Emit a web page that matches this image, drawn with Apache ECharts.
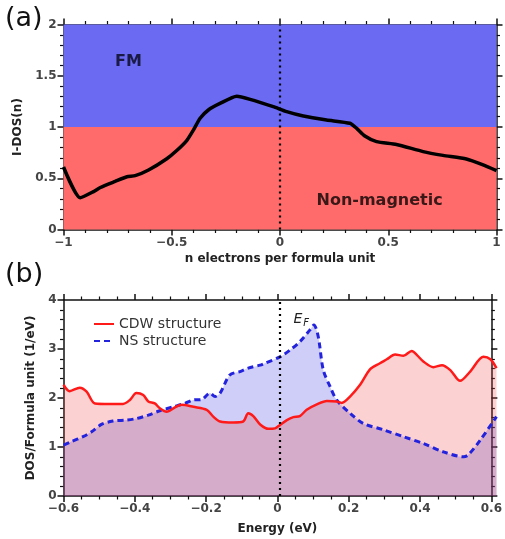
<!DOCTYPE html>
<html>
<head>
<meta charset="utf-8">
<title>I-DOS / DOS</title>
<script src="https://cdn.jsdelivr.net/npm/echarts@6/dist/echarts.min.js"></script>
<style>
  html, body { margin: 0; padding: 0; background: #fff; }
  #chart { width: 505px; height: 539px; }
</style>
</head>
<body>
<div id="chart"></div>
<script>
// panel (a): integrated DOS vs electron doping
var nElec = [-1, -0.923, -0.861, -0.83, -0.761, -0.707, -0.669, -0.607, -0.523, -0.477, -0.43, -0.4, -0.369, -0.331, -0.277, -0.2,
             -0.138, -0.031, 0.031, 0.108, 0.215, 0.323, 0.354, 0.392, 0.446, 0.538, 0.661, 0.753, 0.861, 0.938, 1];
var iDos  = [0.61, 0.31, 0.37, 0.41, 0.47, 0.515, 0.525, 0.58, 0.69, 0.77, 0.87, 0.97, 1.085, 1.166, 1.23, 1.30,
             1.27, 1.198, 1.15, 1.107, 1.068, 1.036, 0.987, 0.912, 0.857, 0.83, 0.76, 0.723, 0.688, 0.63, 0.574];
var fmBand = [1, 2];
var nmBand = [0, 1];

// panel (b): DOS vs energy
var cdwE   = [-0.6, -0.583, -0.555, -0.536, -0.513, -0.472, -0.435, -0.416, -0.398, -0.379, -0.365, -0.347, -0.333, -0.314, -0.291,
              -0.273, -0.24, -0.203, -0.185, -0.166, -0.13, -0.102, -0.088, -0.074, -0.055, -0.032, -0.014, 0, 0.019, 0.037,
              0.055, 0.074, 0.102, 0.13, 0.157, 0.171, 0.194, 0.222, 0.25, 0.277, 0.296, 0.319, 0.342, 0.365, 0.379,
              0.398, 0.425, 0.449, 0.472, 0.499, 0.527, 0.564, 0.583, 0.6];
var cdwDos = [2.27, 2.14, 2.21, 2.13, 1.89, 1.88, 1.88, 1.96, 2.10, 2.06, 1.93, 1.89, 1.79, 1.72, 1.81,
              1.86, 1.82, 1.76, 1.62, 1.52, 1.50, 1.52, 1.69, 1.63, 1.46, 1.37, 1.38, 1.45, 1.55, 1.61,
              1.63, 1.76, 1.87, 1.94, 1.93, 1.90, 2.03, 2.27, 2.59, 2.71, 2.79, 2.89, 2.86, 2.96, 2.88,
              2.74, 2.63, 2.67, 2.57, 2.35, 2.54, 2.84, 2.79, 2.61];
var nsE    = [-0.6, -0.578, -0.546, -0.522, -0.495, -0.463, -0.425, -0.398, -0.365, -0.333, -0.296, -0.264, -0.24, -0.217,
              -0.194, -0.18, -0.166, -0.139, -0.111, -0.088, -0.055, -0.042, 0, 0.028, 0.055, 0.083, 0.094, 0.106, 0.12,
              0.139, 0.157, 0.194, 0.231, 0.287, 0.342, 0.398, 0.453, 0.509, 0.522, 0.555, 0.6];
var nsDos  = [1.04, 1.11, 1.21, 1.31, 1.46, 1.53, 1.55, 1.58, 1.65, 1.74, 1.82, 1.89, 1.96, 1.97,
              2.10, 2.03, 2.10, 2.47, 2.54, 2.61, 2.67, 2.71, 2.84, 2.98, 3.15, 3.39, 3.49, 3.25, 2.57,
              2.23, 1.96, 1.69, 1.48, 1.35, 1.21, 1.07, 0.90, 0.80, 0.84, 1.14, 1.62];

// annotation anchors in data units
var fmAt = [-0.7, 1.64];
var nmAt = [0.46, 0.28];
var efAt = [0.05, 3.6];

function pairs(xs, ys) { return xs.map(function (x, i) { return [x, ys[i]]; }); }
function minus(v) { return String(v).replace('-', '\u2212'); }

var font = 'DejaVu Sans';

// data axes: scale only, drawn nothing
function dataAxis(gi, min, max) {
  return { type: 'value', gridIndex: gi, min: min, max: max, show: false };
}
// frame axes on an empty overlay grid: line, ticks, labels, name
function frameAxis(gi, min, max, step, minorN, name, gap, show, pos) {
  return {
    type: 'value', gridIndex: gi, min: min, max: max, interval: step,
    position: pos,
    name: show ? name : '', nameLocation: 'middle', nameGap: gap,
    nameTextStyle: { color: '#222', fontWeight: 'bold', fontSize: 12, fontFamily: font },
    axisLine: { show: true, onZero: false, lineStyle: { color: '#111', width: 1.5 } },
    axisTick: { show: true, inside: false, length: 6, lineStyle: { color: '#111', width: 1.5 } },
    minorTick: { show: true, splitNumber: minorN, length: 3.5, lineStyle: { color: '#111', width: 1.2 } },
    axisLabel: { show: show, formatter: minus, margin: 7, color: '#444', fontWeight: 'bold', fontSize: 12, fontFamily: font },
    splitLine: { show: false }
  };
}

var gridA = { left: 63.5, right: 8.5, top: 24.5, height: 205 };
var gridB = { left: 63.5, right: 8.5, top: 300, height: 196 };

var chart = echarts.init(document.getElementById('chart'));
chart.setOption({
  animation: false,
  backgroundColor: '#fff',
  title: [
    { text: '(a)', left: 0, top: 0, textStyle: { fontSize: 27, fontWeight: 'normal', color: '#111', fontFamily: font } },
    { text: '(b)', left: 0, top: 256, textStyle: { fontSize: 27, fontWeight: 'normal', color: '#111', fontFamily: font } }
  ],
  grid: [gridA, gridB, Object.assign({ z: 10 }, gridA), Object.assign({ z: 10 }, gridB)],
  legend: {
    orient: 'vertical', left: 88, top: 312, itemWidth: 20, itemHeight: 10, itemGap: 3,
    itemStyle: { opacity: 0 },
    textStyle: { fontSize: 14, color: '#333', fontFamily: font },
    data: ['CDW structure', 'NS structure']
  },
  xAxis: [
    dataAxis(0, -1, 1),
    dataAxis(1, -0.6, 0.6),
    frameAxis(2, -1, 1, 0.5, 5, 'n electrons per formula unit', 23, true, 'bottom'),
    frameAxis(2, -1, 1, 0.5, 5, '', 0, false, 'top'),
    frameAxis(3, -0.6, 0.6, 0.2, 4, 'Energy (eV)', 27, true, 'bottom'),
    frameAxis(3, -0.6, 0.6, 0.2, 4, '', 0, false, 'top')
  ],
  yAxis: [
    dataAxis(0, 0, 2),
    dataAxis(1, 0, 4),
    frameAxis(2, 0, 2, 0.5, 5, 'I-DOS(n)', 32, true, 'left'),
    frameAxis(2, 0, 2, 0.5, 5, '', 0, false, 'right'),
    frameAxis(3, 0, 4, 1, 5, 'DOS/Formula unit (1/eV)', 22, true, 'left'),
    frameAxis(3, 0, 4, 1, 5, '', 0, false, 'right')
  ],
  series: [
    {
      name: 'I-DOS', type: 'line', xAxisIndex: 0, yAxisIndex: 0,
      data: pairs(nElec, iDos), symbol: 'none', smooth: 0.2,
      lineStyle: { color: '#000', width: 3.5 }, z: 5,
      markArea: {
        silent: true,
        data: [
          [{ yAxis: fmBand[0], itemStyle: { color: '#6a6af2' } }, { yAxis: fmBand[1] }],
          [{ yAxis: nmBand[0], itemStyle: { color: '#ff6b6b' } }, { yAxis: nmBand[1] }]
        ]
      },
      markLine: {
        silent: true, symbol: 'none', label: { show: false },
        lineStyle: { color: '#000', type: [2, 4], width: 2.2 },
        data: [{ xAxis: 0 }]
      }
    },
    {
      name: 'NS structure', type: 'line', xAxisIndex: 1, yAxisIndex: 1,
      data: pairs(nsE, nsDos), symbol: 'none', smooth: 0.3,
      lineStyle: { color: '#2323dd', width: 3, type: [6, 4] },
      itemStyle: { color: '#2323dd' },
      areaStyle: { color: 'rgba(52,52,226,0.35)' },
      markLine: {
        silent: true, symbol: 'none', label: { show: false },
        lineStyle: { color: '#000', type: [2, 4], width: 2.2 },
        data: [{ xAxis: 0 }]
      }
    },
    {
      name: 'CDW structure', type: 'line', xAxisIndex: 1, yAxisIndex: 1,
      data: pairs(cdwE, cdwDos), symbol: 'none', smooth: 0.3,
      lineStyle: { color: '#ff1a1a', width: 2.5 },
      itemStyle: { color: '#ff1a1a' },
      areaStyle: { color: 'rgba(238,64,64,0.35)' }
    }
  ]
});

// text annotations placed through the data axes
var fm = chart.convertToPixel({ xAxisIndex: 0, yAxisIndex: 0 }, fmAt);
var nm = chart.convertToPixel({ xAxisIndex: 0, yAxisIndex: 0 }, nmAt);
var ef = chart.convertToPixel({ xAxisIndex: 1, yAxisIndex: 1 }, efAt);
function label(p, txt, size, color) {
  return { type: 'text', z: 20, silent: true,
           style: { x: p[0], y: p[1], text: txt, fill: color, font: size, align: 'center', verticalAlign: 'middle' } };
}
chart.setOption({
  graphic: [
    label(fm, 'FM', 'bold 16px "DejaVu Sans"', '#1a1a44'),
    label(nm, 'Non-magnetic', 'bold 16px "DejaVu Sans"', '#3a1818'),
    label(ef, 'E', 'italic 14px "DejaVu Sans"', '#222'),
    label([ef[0] + 8, ef[1] + 4], 'F', 'italic 10px "DejaVu Sans"', '#222')
  ]
});
</script>
</body>
</html>
